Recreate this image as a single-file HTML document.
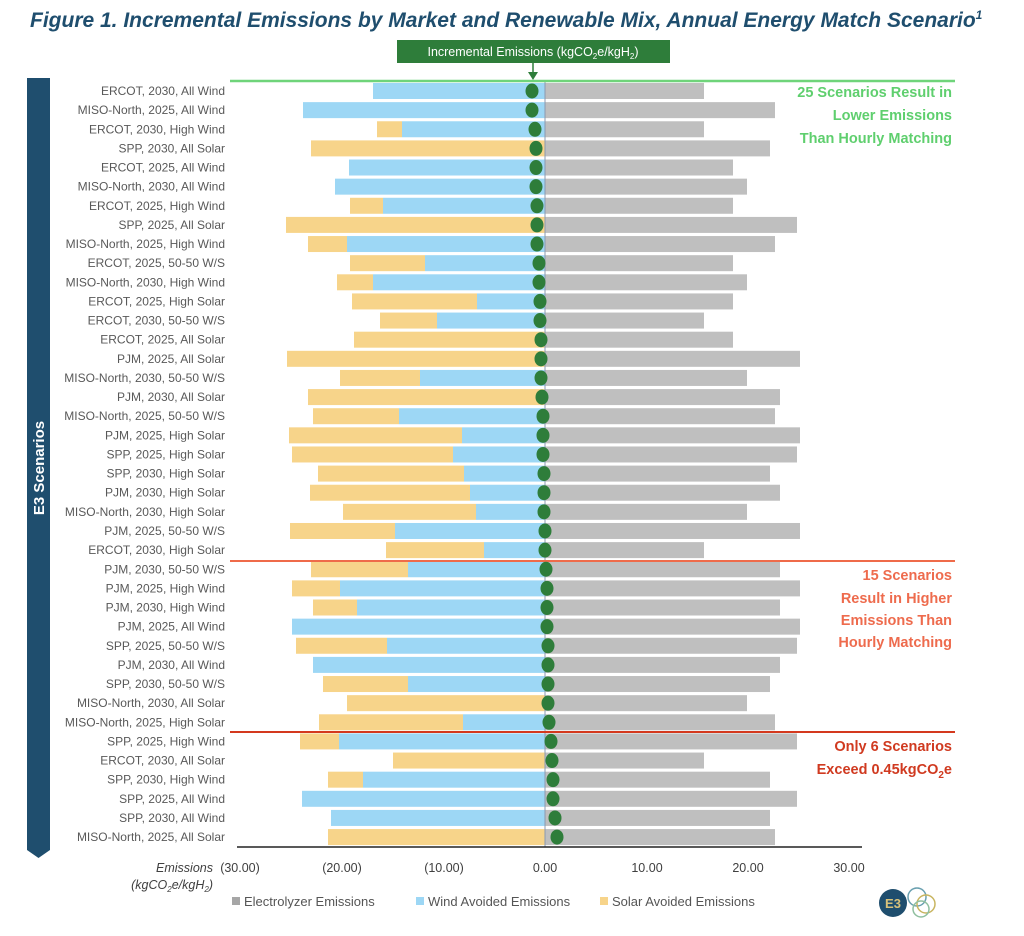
<!DOCTYPE html>
<html><head><meta charset="utf-8"><style>
body{margin:0;background:#fff;width:1024px;height:931px;overflow:hidden;font-family:"Liberation Sans",sans-serif;}
</style></head><body>
<svg id="s" width="1024" height="931" xmlns="http://www.w3.org/2000/svg" font-family="Liberation Sans, sans-serif">
<text x="30" y="27" font-size="21" font-weight="bold" font-style="italic" fill="#1f4e6e">Figure 1. Incremental Emissions by Market and Renewable Mix, Annual Energy Match Scenario<tspan font-size="12" dy="-8">1</tspan></text>
<rect x="397" y="40" width="273" height="23" fill="#2e7d3a"/>
<text x="533" y="56" font-size="12.5" fill="#fff" text-anchor="middle">Incremental Emissions (kgCO<tspan font-size="8" dy="3">2</tspan><tspan dy="-3">e/kgH</tspan><tspan font-size="8" dy="3">2</tspan><tspan dy="-3">)</tspan></text>
<line x1="533" y1="63" x2="533" y2="74" stroke="#2e7d3a" stroke-width="1.5"/>
<polygon points="528,72 538,72 533,80" fill="#2e7d3a"/>
<polygon points="27,78 50,78 50,850 38.5,858 27,850" fill="#1f4e6e"/>
<text transform="translate(44,468) rotate(-90)" font-size="15" font-weight="bold" fill="#fff" text-anchor="middle">E3 Scenarios</text>
<g id="bars"></g>
<line x1="545" y1="82" x2="545" y2="847" stroke="#8a9ab0" stroke-width="1"/>
<line x1="230" y1="81" x2="955" y2="81" stroke="#6fd47a" stroke-width="2.5"/>
<line x1="230" y1="561" x2="955" y2="561" stroke="#ef6b4a" stroke-width="2"/>
<line x1="230" y1="732" x2="955" y2="732" stroke="#d4391e" stroke-width="2"/>
<line x1="237" y1="847" x2="862" y2="847" stroke="#222" stroke-width="1.5"/>
<g id="dots"></g>
<g font-size="14.5" font-weight="bold" text-anchor="end">
<text x="952" y="97" fill="#5fcf6e">25 Scenarios Result in</text>
<text x="952" y="120" fill="#5fcf6e">Lower Emissions</text>
<text x="952" y="143" fill="#5fcf6e">Than Hourly Matching</text>
<text x="952" y="580" fill="#ee6b4d">15 Scenarios</text>
<text x="952" y="603" fill="#ee6b4d">Result in Higher</text>
<text x="952" y="625" fill="#ee6b4d">Emissions Than</text>
<text x="952" y="647" fill="#ee6b4d">Hourly Matching</text>
<text x="952" y="751" fill="#d03a20">Only 6 Scenarios</text>
<text x="952" y="774" fill="#d03a20">Exceed 0.45kgCO<tspan font-size="10" dy="4">2</tspan><tspan dy="-4">e</tspan></text>
</g>
<g font-size="12.5" fill="#404040" text-anchor="middle">
<text x="240" y="872">(30.00)</text><text x="342" y="872">(20.00)</text><text x="444" y="872">(10.00)</text>
<text x="545" y="872">0.00</text><text x="647" y="872">10.00</text><text x="748" y="872">20.00</text><text x="849" y="872">30.00</text>
</g>
<text x="213" y="872" font-size="12.5" font-style="italic" fill="#404040" text-anchor="end">Emissions</text>
<text x="213" y="889" font-size="12.5" font-style="italic" fill="#404040" text-anchor="end">(kgCO<tspan font-size="8" dy="3">2</tspan><tspan dy="-3">e/kgH</tspan><tspan font-size="8" dy="3">2</tspan><tspan dy="-3">)</tspan></text>
<g font-size="13" fill="#555">
<rect x="232" y="897" width="8" height="8" fill="#a6a6a6"/><text x="244" y="906">Electrolyzer Emissions</text>
<rect x="416" y="897" width="8" height="8" fill="#9dd7f5"/><text x="428" y="906">Wind Avoided Emissions</text>
<rect x="600" y="897" width="8" height="8" fill="#f7d48a"/><text x="612" y="906">Solar Avoided Emissions</text>
</g>
<circle cx="893" cy="903" r="14" fill="#1f4e6e"/>
<text x="893" y="908" font-size="13" font-weight="bold" fill="#d9c27a" text-anchor="middle">E3</text>
<circle cx="917" cy="897" r="9" fill="none" stroke="#6aa0b0" stroke-width="1.5"/>
<circle cx="926" cy="904" r="9" fill="none" stroke="#c8b560" stroke-width="1.5"/>
<circle cx="921" cy="909" r="8" fill="none" stroke="#8fbf9f" stroke-width="1.5"/>
</svg>
<script>
var L=["ERCOT, 2030, All Wind","MISO-North, 2025, All Wind","ERCOT, 2030, High Wind","SPP, 2030, All Solar","ERCOT, 2025, All Wind","MISO-North, 2030, All Wind","ERCOT, 2025, High Wind","SPP, 2025, All Solar","MISO-North, 2025, High Wind","ERCOT, 2025, 50-50 W/S","MISO-North, 2030, High Wind","ERCOT, 2025, High Solar","ERCOT, 2030, 50-50 W/S","ERCOT, 2025, All Solar","PJM, 2025, All Solar","MISO-North, 2030, 50-50 W/S","PJM, 2030, All Solar","MISO-North, 2025, 50-50 W/S","PJM, 2025, High Solar","SPP, 2025, High Solar","SPP, 2030, High Solar","PJM, 2030, High Solar","MISO-North, 2030, High Solar","PJM, 2025, 50-50 W/S","ERCOT, 2030, High Solar","PJM, 2030, 50-50 W/S","PJM, 2025, High Wind","PJM, 2030, High Wind","PJM, 2025, All Wind","SPP, 2025, 50-50 W/S","PJM, 2030, All Wind","SPP, 2030, 50-50 W/S","MISO-North, 2030, All Solar","MISO-North, 2025, High Solar","SPP, 2025, High Wind","ERCOT, 2030, All Solar","SPP, 2030, High Wind","SPP, 2025, All Wind","SPP, 2030, All Wind","MISO-North, 2025, All Solar"];
var G=[704,775,704,770,733,747,733,797,775,733,747,733,704,733,800,747,780,775,800,797,770,780,747,800,704,780,800,780,800,797,780,770,747,775,797,704,770,797,770,775];
var W=[373,303,402,545,349,335,383,545,347,425,373,477,437,545,545,420,545,399,462,453,464,470,476,395,484,408,340,357,292,387,313,408,545,463,339,545,363,302,331,545];
var S=[373,303,377,311,349,335,350,286,308,350,337,352,380,354,287,340,308,313,289,292,318,310,343,290,386,311,292,313,292,296,313,323,347,319,300,393,328,302,331,328];
var D=[532,532,535,536,536,536,537,537,537,539,539,540,540,541,541,541,542,543,543,543,544,544,544,545,545,546,547,547,547,548,548,548,548,549,551,552,553,553,555,557];
var b="",d="";
for(var i=0;i<40;i++){var y=91+i*19.13,t=y-8;
b+='<rect x="545" y="'+t+'" width="'+(G[i]-545)+'" height="16" fill="#bfbfbf"/>';
if(W[i]<545)b+='<rect x="'+W[i]+'" y="'+t+'" width="'+(545-W[i])+'" height="16" fill="#9dd7f5"/>';
if(S[i]<W[i])b+='<rect x="'+S[i]+'" y="'+t+'" width="'+(W[i]-S[i])+'" height="16" fill="#f7d48a"/>';
b+='<text x="225" y="'+(y+4)+'" font-size="12" fill="#595959" text-anchor="end">'+L[i]+'</text>';
d+='<ellipse cx="'+D[i]+'" cy="'+y+'" rx="6.5" ry="7.5" fill="#2e7d3a"/>';}
document.getElementById("bars").innerHTML=b;document.getElementById("dots").innerHTML=d;
</script>
</body></html>
